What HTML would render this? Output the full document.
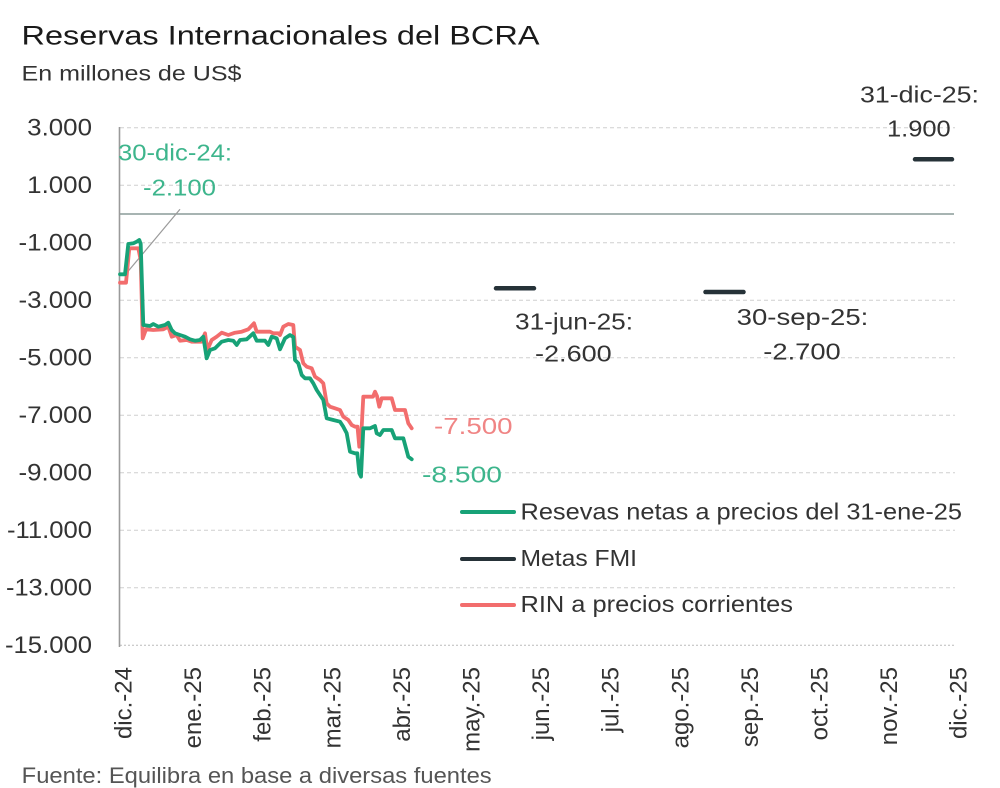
<!DOCTYPE html>
<html>
<head>
<meta charset="utf-8">
<style>
html,body{margin:0;padding:0;background:#fff;}
svg{display:block;}
text{font-family:"Liberation Sans",Arial,sans-serif;}
</style>
</head>
<body>
<svg width="1000" height="788" viewBox="0 0 1000 788" xmlns="http://www.w3.org/2000/svg">
<rect x="0" y="0" width="1000" height="788" fill="#ffffff"/>

<!-- Title -->
<text x="21.5" y="44.3" font-size="27" fill="#1a1a1a" textLength="518" lengthAdjust="spacingAndGlyphs">Reservas Internacionales del BCRA</text>
<text x="21.5" y="80.7" font-size="21" fill="#333" textLength="220" lengthAdjust="spacingAndGlyphs">En millones de US$</text>

<!-- Gridlines -->
<g stroke="#cfcfcf" stroke-width="1" stroke-dasharray="4 3">
<line x1="120" y1="127.75" x2="955" y2="127.75"/>
<line x1="120" y1="185.25" x2="955" y2="185.25"/>
<line x1="120" y1="242.75" x2="955" y2="242.75"/>
<line x1="120" y1="300.25" x2="955" y2="300.25"/>
<line x1="120" y1="357.75" x2="955" y2="357.75"/>
<line x1="120" y1="415.25" x2="955" y2="415.25"/>
<line x1="120" y1="472.75" x2="955" y2="472.75"/>
<line x1="120" y1="530.25" x2="955" y2="530.25"/>
<line x1="120" y1="587.75" x2="955" y2="587.75"/>
</g>
<line x1="120" y1="645.25" x2="955" y2="645.25" stroke="#bbbbbb" stroke-width="1" stroke-dasharray="2 2"/>

<!-- Zero line -->
<line x1="120" y1="214" x2="954" y2="214" stroke="#8a9b98" stroke-width="1.6"/>

<!-- Y axis -->
<line x1="119.5" y1="127" x2="119.5" y2="647" stroke="#9a9a9a" stroke-width="1.6"/>

<!-- Y labels -->
<g font-size="24" fill="#333" text-anchor="end">
<text x="92" y="135.5" textLength="64.8" lengthAdjust="spacingAndGlyphs">3.000</text>
<text x="92" y="193" textLength="64.8" lengthAdjust="spacingAndGlyphs">1.000</text>
<text x="92" y="250.5" textLength="73.5" lengthAdjust="spacingAndGlyphs">-1.000</text>
<text x="92" y="308" textLength="73.5" lengthAdjust="spacingAndGlyphs">-3.000</text>
<text x="92" y="365.5" textLength="73.5" lengthAdjust="spacingAndGlyphs">-5.000</text>
<text x="92" y="423" textLength="73.5" lengthAdjust="spacingAndGlyphs">-7.000</text>
<text x="92" y="480.5" textLength="73.5" lengthAdjust="spacingAndGlyphs">-9.000</text>
<text x="92" y="538" textLength="85" lengthAdjust="spacingAndGlyphs">-11.000</text>
<text x="92" y="595.5" textLength="86" lengthAdjust="spacingAndGlyphs">-13.000</text>
<text x="92" y="653" textLength="87" lengthAdjust="spacingAndGlyphs">-15.000</text>
</g>

<!-- X labels -->
<g font-size="24" fill="#333" text-anchor="end">
<text transform="translate(131.5,667) rotate(-90)">dic.-24</text>
<text transform="translate(201.1,667) rotate(-90)">ene.-25</text>
<text transform="translate(270.7,667) rotate(-90)">feb.-25</text>
<text transform="translate(340.3,667) rotate(-90)">mar.-25</text>
<text transform="translate(409.9,667) rotate(-90)">abr.-25</text>
<text transform="translate(479.5,667) rotate(-90)">may.-25</text>
<text transform="translate(549.1,667) rotate(-90)">jun.-25</text>
<text transform="translate(618.7,667) rotate(-90)">jul.-25</text>
<text transform="translate(688.3,667) rotate(-90)">ago.-25</text>
<text transform="translate(757.9,667) rotate(-90)">sep.-25</text>
<text transform="translate(827.5,667) rotate(-90)">oct.-25</text>
<text transform="translate(897.1,667) rotate(-90)">nov.-25</text>
<text transform="translate(966.7,667) rotate(-90)">dic.-25</text>
</g>

<!-- Leader line -->
<line x1="125" y1="275" x2="180" y2="209.3" stroke="#9a9a9a" stroke-width="1.2"/>

<!-- Red series: RIN a precios corrientes -->
<path fill="none" stroke="#f26d6d" stroke-width="3.8" stroke-linejoin="round" stroke-linecap="round"
d="M120,282.7 L126,282.7 L129.3,248.3 L138.3,248.3 L140.7,260 L142.7,338.3 L146,329.3 L153.3,330 L163.3,329.3 L168.3,326.7 L171.7,336.7 L176.7,335 L180,340.7 L186.7,340 L191.7,341.7 L201.7,341.7 L205,333.3 L207.3,350 L211.7,340 L216.7,336.7 L221.7,332.7 L228.3,335 L235,332.7 L241.7,331.7 L248.3,329.3 L254,323.3 L256.7,331.7 L270,331.7 L273.3,333.3 L278.3,333.3 L280,335 L283.3,326.7 L288.3,324 L293.3,325 L295,346.7 L300,350 L303.3,363.3 L306.7,366.7 L311.7,368.3 L315,376.7 L320,380 L323.3,383.3 L326.7,403.3 L330,406.7 L335,408.3 L340,410 L343.3,416.7 L348.3,420 L351.7,425 L355,426.7 L357.5,426.7 L359.3,446.7 L361,440 L363.3,396.7 L368.3,396.7 L373,396.7 L375,391.7 L377,396 L379.3,406.7 L381.7,398.3 L391.7,398.3 L395,410 L405,410 L408.3,423.3 L411.7,428.3"/>

<!-- Green series: Resevas netas -->
<path fill="none" stroke="#17a277" stroke-width="3.8" stroke-linejoin="round" stroke-linecap="round"
d="M120,274.3 L125,274.3 L128.3,244 L133.3,243.3 L136.7,241.7 L139.3,240 L140.7,244 L143.3,325 L150,326 L153.3,324 L158.3,326.7 L165,325 L168.3,322.7 L171.7,330 L175,333.3 L180,335 L185,336.7 L190,339.3 L195,340.7 L200,340 L203.3,336.7 L206.7,358.3 L210,350 L215,348.3 L221.7,341.7 L228.3,340 L233.3,340.7 L236.7,345 L240,340 L246.7,339.3 L253.3,333.3 L256.7,340.7 L265,340.7 L268.3,345 L271.7,336.7 L276.7,338.3 L280,349.3 L285,338.3 L290,335 L293.3,337 L295,360 L298.3,363.3 L301.7,375 L305,378.3 L310,378.3 L313.3,383.3 L316.7,390 L320,395 L323.3,400 L326.7,418.3 L333.3,420 L340,421.7 L343.3,426.7 L346.7,433.3 L350,451.7 L355,453.3 L357.3,453.3 L359.3,473.3 L361,476.7 L363.3,428.3 L370,428.3 L375,426 L376.7,433.3 L380,435 L383.3,430 L391.7,430 L395,438.3 L403.3,438.3 L408.3,456.7 L411.7,459.3"/>

<!-- Metas FMI -->
<g stroke="#263238" stroke-width="4.5" stroke-linecap="round">
<line x1="496" y1="288.3" x2="534" y2="288.3"/>
<line x1="705.5" y1="292" x2="743.5" y2="292"/>
<line x1="915" y1="159.3" x2="952" y2="159.3"/>
</g>

<!-- Annotations -->
<g font-size="23">
<text x="118" y="160.7" fill="#3db58c" textLength="114" lengthAdjust="spacingAndGlyphs">30-dic-24:</text>
<text x="143" y="195.7" fill="#3db58c" textLength="73" lengthAdjust="spacingAndGlyphs">-2.100</text>
<text x="860" y="102.3" fill="#333" textLength="119" lengthAdjust="spacingAndGlyphs">31-dic-25:</text>
<text x="887" y="136.7" fill="#333" textLength="63.7" lengthAdjust="spacingAndGlyphs">1.900</text>
<text x="515" y="329.3" fill="#333" textLength="118" lengthAdjust="spacingAndGlyphs">31-jun-25:</text>
<text x="535" y="361.7" fill="#333" textLength="76.7" lengthAdjust="spacingAndGlyphs">-2.600</text>
<text x="736.7" y="325" fill="#333" textLength="131.6" lengthAdjust="spacingAndGlyphs">30-sep-25:</text>
<text x="763.3" y="359.3" fill="#333" textLength="77.4" lengthAdjust="spacingAndGlyphs">-2.700</text>
<text x="434" y="434" fill="#f08585" textLength="78.6" lengthAdjust="spacingAndGlyphs">-7.500</text>
<text x="422" y="482.7" fill="#3db58c" textLength="80" lengthAdjust="spacingAndGlyphs">-8.500</text>
</g>

<!-- Legend -->
<g stroke-width="4" stroke-linecap="round">
<line x1="462" y1="512" x2="514" y2="512" stroke="#17a277"/>
<line x1="462" y1="559" x2="514" y2="559" stroke="#263238"/>
<line x1="462" y1="605" x2="514" y2="605" stroke="#f26d6d"/>
</g>
<g font-size="23" fill="#333">
<text x="520.5" y="519.5" textLength="441.5" lengthAdjust="spacingAndGlyphs">Resevas netas a precios del 31-ene-25</text>
<text x="520.5" y="566" textLength="116.5" lengthAdjust="spacingAndGlyphs">Metas FMI</text>
<text x="520.5" y="612" textLength="272.5" lengthAdjust="spacingAndGlyphs">RIN a precios corrientes</text>
</g>

<!-- Footer -->
<text x="21.7" y="783" font-size="22" fill="#555" textLength="470" lengthAdjust="spacingAndGlyphs">Fuente: Equilibra en base a diversas fuentes</text>
</svg>
</body>
</html>
